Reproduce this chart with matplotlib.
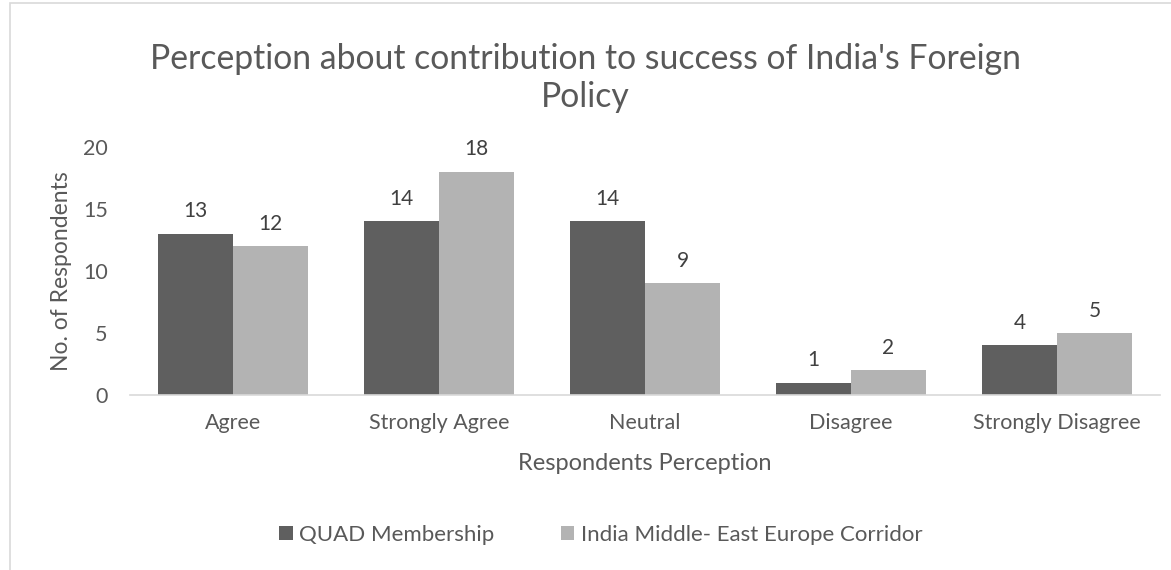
import matplotlib.pyplot as plt
import numpy as np
from matplotlib.patches import Rectangle

# Data
categories = ['Agree', 'Strongly Agree', 'Neutral', 'Disagree', 'Strongly Disagree']
quad = [13, 14, 14, 1, 4]
imec = [12, 18, 9, 2, 5]
series_names = ['QUAD Membership', 'India Middle- East Europe Corridor']

plt.rcParams['font.family'] = ['Lato', 'DejaVu Sans']
txt = '#595959'

fig = plt.figure(figsize=(11.71, 5.70), dpi=100)
ax = fig.add_axes([130 / 1171, 1 - 395 / 570, 1030 / 1171, 248 / 570])

# chart frame (runs off the right and bottom of the image)
fig.patches.append(Rectangle((10 / 1171, -0.1), 1.2, 1 - 3 / 570 + 0.1,
                             transform=fig.transFigure, fill=False,
                             edgecolor='#d9d9d9', linewidth=1.2))

x = np.arange(len(categories))
w = 0.364
b1 = ax.bar(x - w / 2, quad, w, color='#5f5f5f', label=series_names[0])
b2 = ax.bar(x + w / 2, imec, w, color='#b3b3b3', label=series_names[1])

for bars, vals in [(b1, quad), (b2, imec)]:
    for r, v in zip(bars, vals):
        ax.text(r.get_x() + r.get_width() / 2, v + 1.0, str(v), ha='center',
                va='bottom', fontsize=15, color='#404040')

ax.set_xlim(-0.5, len(categories) - 0.5)
ax.set_ylim(0, 20)
ax.set_yticks([0, 5, 10, 15, 20])
ax.set_xticks(x)
ax.set_xticklabels(categories)
ax.tick_params(axis='both', length=0, labelsize=15.5, colors=txt)
ax.tick_params(axis='y', pad=16)
ax.tick_params(axis='x', pad=13)

for s in ['top', 'right', 'left']:
    ax.spines[s].set_visible(False)
ax.spines['bottom'].set_color('#d9d9d9')
ax.spines['bottom'].set_linewidth(1.2)

ax.set_ylabel('No. of Respondents', fontsize=16.5, color=txt, labelpad=8)
ax.set_xlabel('Respondents Perception', fontsize=17, color=txt, labelpad=14)

fig.text(585 / 1171, 1 - 78 / 570, "Perception about contribution to success of India's Foreign\nPolicy",
         ha='center', va='center', fontsize=24.3, color=txt, linespacing=1.25)

fig.legend(loc='center', bbox_to_anchor=(601 / 1171, 1 - 535 / 570), ncol=2, frameon=False,
           fontsize=16, labelcolor=txt, handlelength=0.6, handleheight=0.6,
           handletextpad=0.3, columnspacing=3.0)

plt.savefig('out.png', dpi=100)
